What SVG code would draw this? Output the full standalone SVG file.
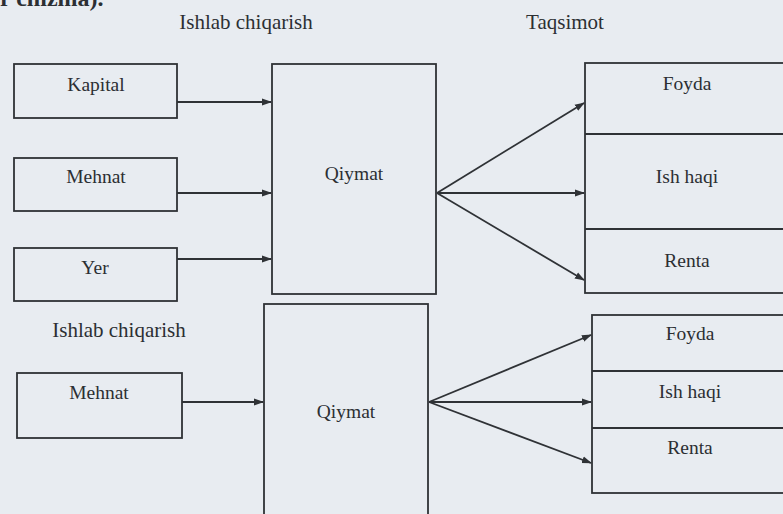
<svg xmlns="http://www.w3.org/2000/svg" width="783" height="514" viewBox="0 0 783 514">
<defs>
<style>
.bg{fill:#e8ecf1}
.box{fill:none;stroke:#2f3236;stroke-width:1.8}
.ln{fill:none;stroke:#2f3236;stroke-width:1.8}
.t{font-family:"Liberation Serif","Times New Roman",serif;font-size:19.5px;fill:#2c2f33;text-anchor:middle}
.h{font-family:"Liberation Serif","Times New Roman",serif;font-size:21px;fill:#2c2f33;text-anchor:middle}
</style>
<marker id="ah" markerWidth="10" markerHeight="8" refX="9" refY="4" orient="auto" markerUnits="userSpaceOnUse">
<path d="M0,0.5 L10,4 L0,7.5 Z" fill="#2f3236"/>
</marker>
</defs>
<rect class="bg" x="0" y="0" width="783" height="514"/>
<text x="0" y="6" font-family="'Liberation Serif',serif" font-size="24" font-weight="bold" fill="#2c2f33">r chizma).</text>
<text class="h" x="246" y="29">Ishlab chiqarish</text>
<text class="h" x="565" y="29">Taqsimot</text>
<text class="h" x="119" y="337">Ishlab chiqarish</text>
<g id="kapital"><rect class="box" x="14" y="64" width="163" height="54"/><text class="t" x="96" y="91">Kapital</text></g>
<g id="mehnat"><rect class="box" x="14" y="158" width="163" height="53"/><text class="t" x="96" y="183">Mehnat</text></g>
<g id="yer"><rect class="box" x="14" y="248" width="163" height="53"/><text class="t" x="95" y="274">Yer</text></g>
<g id="qiymat"><rect class="box" x="272" y="64" width="164" height="230"/><text class="t" x="354" y="180">Qiymat</text></g>
<g id="taqsimot"><rect class="box" x="585" y="63" width="210" height="230"/><line class="ln" x1="585" y1="134" x2="795" y2="134"/><line class="ln" x1="585" y1="229" x2="795" y2="229"/>
<text class="t" x="687" y="90">Foyda</text><text class="t" x="687" y="183">Ish haqi</text><text class="t" x="687" y="267">Renta</text></g>
<g id="mehnat2"><rect class="box" x="17" y="373" width="165" height="65"/><text class="t" x="99" y="399">Mehnat</text></g>
<g id="qiymat2"><rect class="box" x="264" y="304" width="164" height="230"/><text class="t" x="346" y="418">Qiymat</text></g>
<g id="taqsimot2"><rect class="box" x="592" y="315" width="203" height="178"/><line class="ln" x1="592" y1="371" x2="795" y2="371"/><line class="ln" x1="592" y1="428" x2="795" y2="428"/>
<text class="t" x="690" y="340">Foyda</text><text class="t" x="690" y="398">Ish haqi</text><text class="t" x="690" y="454">Renta</text></g>
<g id="connectors">
<line class="ln" x1="177" y1="102" x2="271" y2="102" marker-end="url(#ah)"/>
<line class="ln" x1="177" y1="193" x2="271" y2="193" marker-end="url(#ah)"/>
<line class="ln" x1="177" y1="259" x2="271" y2="259" marker-end="url(#ah)"/>
<line class="ln" x1="437" y1="193" x2="584" y2="103" marker-end="url(#ah)"/>
<line class="ln" x1="437" y1="193" x2="584" y2="193" marker-end="url(#ah)"/>
<line class="ln" x1="437" y1="193" x2="584" y2="280" marker-end="url(#ah)"/>
<line class="ln" x1="182" y1="402" x2="263" y2="402" marker-end="url(#ah)"/>
<line class="ln" x1="429" y1="402" x2="591" y2="335" marker-end="url(#ah)"/>
<line class="ln" x1="429" y1="402" x2="591" y2="402" marker-end="url(#ah)"/>
<line class="ln" x1="429" y1="402" x2="591" y2="463" marker-end="url(#ah)"/>
</g>
</svg>
